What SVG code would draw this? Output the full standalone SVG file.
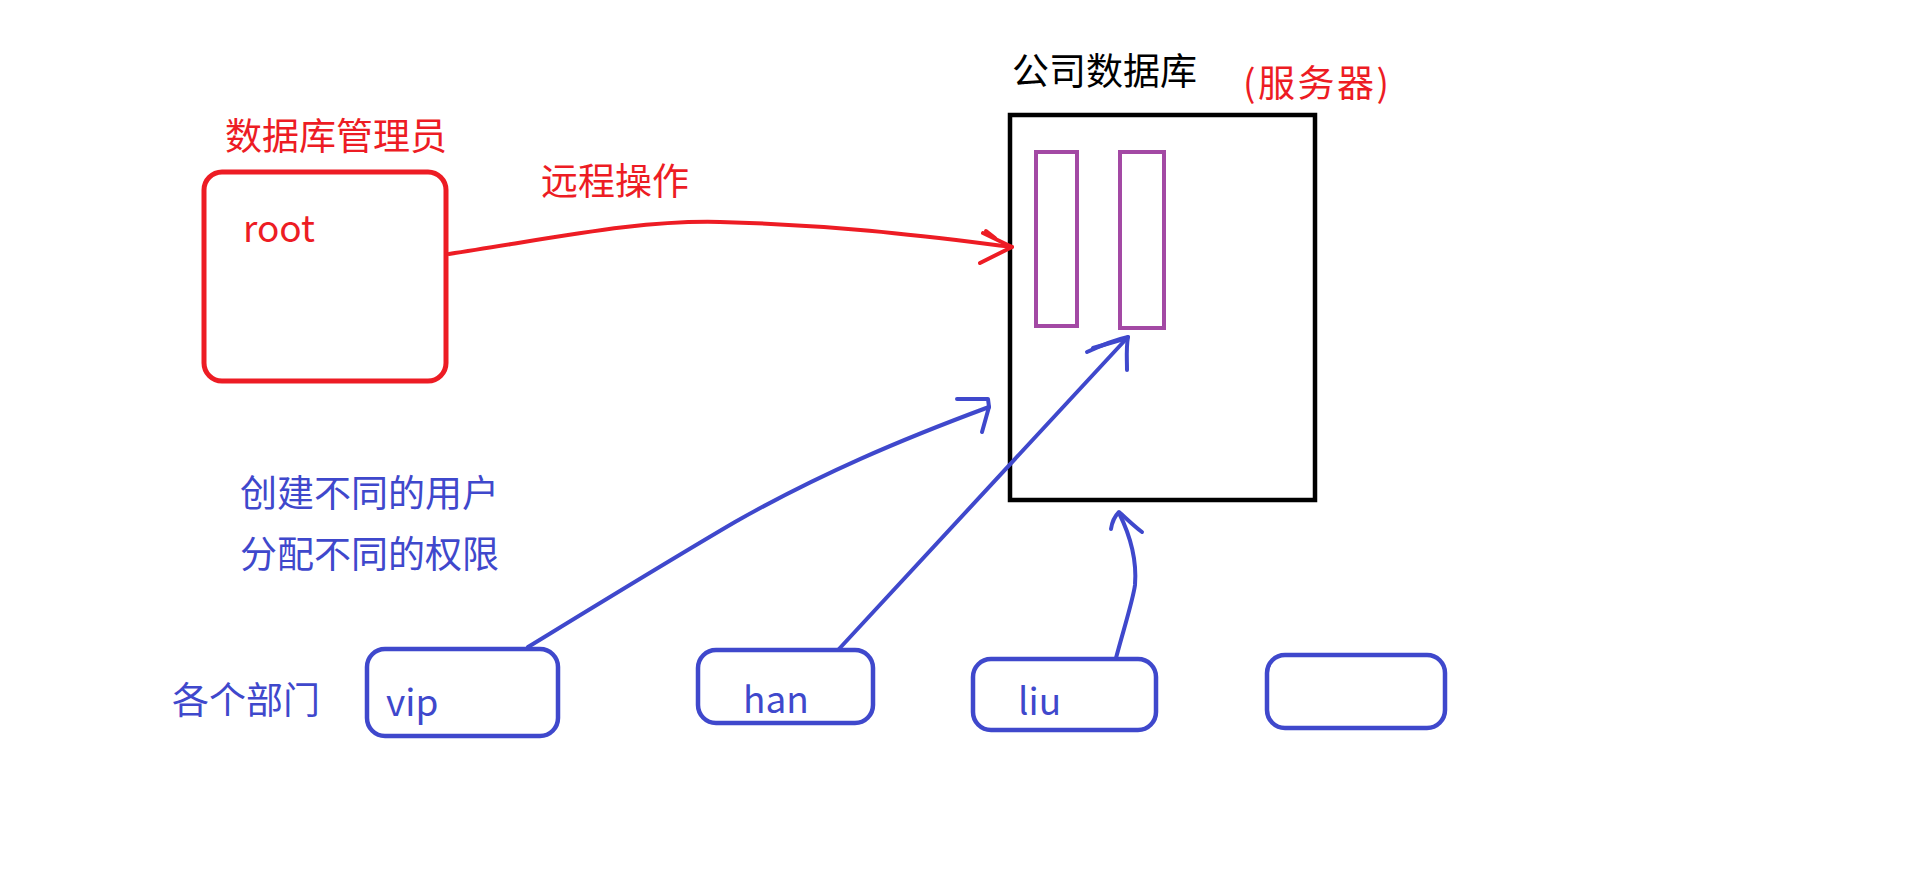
<svg xmlns="http://www.w3.org/2000/svg" width="1914" height="889" viewBox="0 0 1914 889">
  <style>
    text { font-family: "Noto Sans CJK SC", "Noto Sans", sans-serif; font-size: 37px; }
    .red { fill: #ed1c24; }
    .blue { fill: #3f48cc; }
    .black { fill: #000000; }
    .box-red { fill: none; stroke: #ed1c24; stroke-width: 5; }
    .box-blue { fill: none; stroke: #3f48cc; stroke-width: 4.5; }
    .box-black { fill: none; stroke: #000000; stroke-width: 4.5; }
    .box-purple { fill: none; stroke: #a349a4; stroke-width: 4; }
    .wire-red { fill: none; stroke: #ed1c24; stroke-width: 4; stroke-linecap: round; stroke-linejoin: round; }
    .wire-blue { fill: none; stroke: #3f48cc; stroke-width: 4; stroke-linecap: round; stroke-linejoin: round; }
  </style>
  <rect width="1914" height="889" fill="#ffffff"/>

  <!-- administrator -->
  <g id="admin">
    <text class="red" x="225" y="150">数据库管理员</text>
    <rect class="box-red" x="204" y="172" width="242" height="209" rx="18"/>
    <text class="red" x="243" y="242" font-size="39">root</text>
  </g>

  <!-- company database server -->
  <g id="server">
    <text class="black" x="1012" y="85">公司数据库</text>
    <text class="red" x="1243" y="97" font-size="38" letter-spacing="2.5">(服务器)</text>
    <rect class="box-black" x="1010" y="115" width="305" height="385"/>
    <rect id="db1" class="box-purple" x="1036" y="152" width="41" height="174"/>
    <rect id="db2" class="box-purple" x="1120" y="152" width="44" height="176"/>
  </g>

  <!-- notes -->
  <g id="notes">
    <text class="red" x="541" y="195">远程操作</text>
    <text class="blue" x="240" y="507">创建不同的用户</text>
    <text class="blue" x="240" y="568">分配不同的权限</text>
    <text class="blue" x="172" y="714">各个部门</text>
  </g>

  <!-- department users -->
  <g id="user-vip">
    <rect class="box-blue" x="367" y="649" width="191" height="87" rx="18"/>
    <text class="blue" x="386" y="716" font-size="38">vip</text>
  </g>
  <g id="user-han">
    <rect class="box-blue" x="698" y="650" width="175" height="73" rx="18"/>
    <text class="blue" x="743" y="713" font-size="38">han</text>
  </g>
  <g id="user-liu">
    <rect class="box-blue" x="973" y="659" width="183" height="71" rx="18"/>
    <text class="blue" x="1018" y="715" font-size="38">liu</text>
  </g>
  <g id="user-empty">
    <rect class="box-blue" x="1267" y="655" width="178" height="73" rx="18"/>
  </g>

  <!-- connectors -->
  <g id="connectors">
    <!-- remote operation -->
    <path class="wire-red" d="M449,254 C560,237 640,220 720,222 C840,225 930,237 1012,247"/>
    <path class="wire-red" d="M983,233 L1012,247 L980,263"/>
    <path class="wire-red" d="M986,231 L995,238" stroke-width="1.5"/>

    <!-- vip -->
    <path class="wire-blue" d="M528,647 C600,603 670,560 735,522 C820,474 900,440 989,407"/>
    <path class="wire-blue" d="M957,399 L988,399 L989,407 L982,432" stroke-width="3.5"/>

    <!-- han -->
    <path class="wire-blue" d="M839,649 L1128,337"/>
    <path class="wire-blue" d="M1087,352 C1100,346 1114,340 1128,337 C1126,348 1127,358 1127,370" stroke-width="4.5"/>
    <path class="wire-blue" d="M1093,348 L1124,339" stroke-width="3"/>

    <!-- liu -->
    <path class="wire-blue" d="M1116,658 C1124,628 1133,600 1135,585 C1137,560 1130,535 1119,513"/>
    <path class="wire-blue" d="M1111,529 C1112,522 1115,516 1119,512 C1126,518 1134,526 1142,532" stroke-width="3"/>
  </g>
</svg>
